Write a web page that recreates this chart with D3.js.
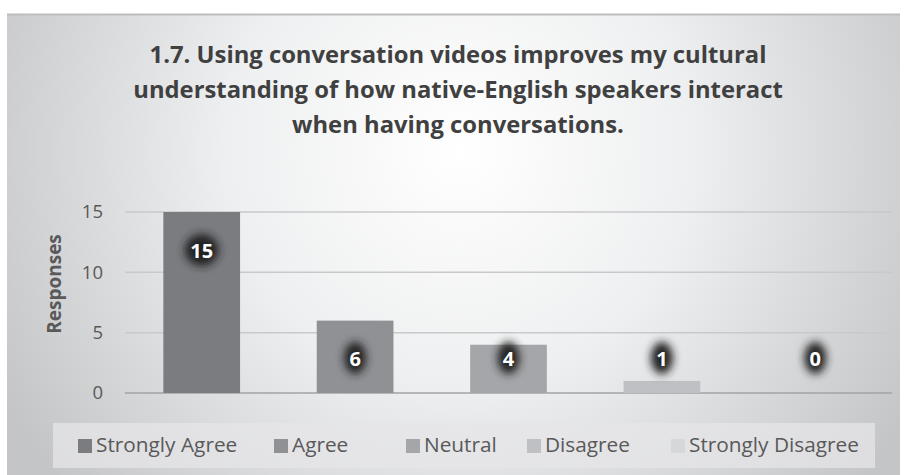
<!DOCTYPE html>
<html><head><meta charset="utf-8">
<script src="https://cdnjs.cloudflare.com/ajax/libs/d3/7.8.5/d3.min.js"></script>
<style>html,body{margin:0;padding:0;background:#fff;}svg{display:block;}</style>
</head><body>
<script>
const categories = ["Strongly Agree","Agree","Neutral","Disagree","Strongly Disagree"];
const values = [15,6,4,1,0];
const colors = ["#7b7c80","#909195","#a5a6a9","#bfc0c3","#d6d7d9"];
const yTicks = [0,5,10,15];
const titleLines = ["1.7. Using conversation videos improves my cultural","understanding of how native-English speakers interact","when having conversations."];
const yLabel = "Responses";

const W=909,H=475;
const svg=d3.select("body").append("svg").attr("width",W).attr("height",H);
const defs=svg.append("defs");
const rg=defs.append("radialGradient").attr("id","bg").attr("gradientUnits","userSpaceOnUse")
  .attr("cx",460).attr("cy",150).attr("r",520);
rg.append("stop").attr("offset","0%").attr("stop-color","#ffffff");
rg.append("stop").attr("offset","45%").attr("stop-color","#eeeff0");
rg.append("stop").attr("offset","100%").attr("stop-color","#c4c5c7");
const f=defs.append("filter").attr("id","glow").attr("x","-100%").attr("y","-100%").attr("width","300%").attr("height","300%");
f.append("feGaussianBlur").attr("stdDeviation",4.5);

svg.append("rect").attr("x",7).attr("y",14).attr("width",893).attr("height",461).attr("fill","url(#bg)");
svg.append("line").attr("x1",7).attr("x2",900).attr("y1",14.5).attr("y2",14.5).attr("stroke","#bdbdbf").attr("stroke-width",2);

const FONT="'Open Sans',sans-serif";
svg.append("g").selectAll("text").data(titleLines).join("text")
  .attr("x",458).attr("y",(d,i)=>63+i*35).attr("text-anchor","middle")
  .attr("font-family",FONT).attr("font-weight","bold").attr("font-size",23.8)
  .attr("fill","#404040").text(d=>d);

const x=d3.scaleBand().domain(categories).range([125,892]).paddingInner(0.5).paddingOuter(0.25);
const y=d3.scaleLinear().domain([0,15]).range([393,212]);

const grid=svg.append("g");
grid.selectAll("line").data(yTicks).join("line")
  .attr("x1",125).attr("x2",892).attr("y1",d=>y(d)).attr("y2",d=>y(d))
  .attr("stroke",d=>d===0?"#a3a3a5":"#c9c9cb").attr("stroke-width",1.5);

const yAxis=d3.axisLeft(y).tickValues(yTicks).tickSize(0).tickPadding(0);
const ya=svg.append("g").attr("transform","translate(103,0)").call(yAxis);
ya.select(".domain").remove();
ya.selectAll("text").attr("font-family",FONT).attr("font-size",18.5).attr("fill","#595959");

svg.append("text").attr("transform","translate(61,284) rotate(-90)").attr("text-anchor","middle")
  .attr("font-family",FONT).attr("font-weight","bold").attr("font-size",19).attr("fill","#595959").text(yLabel);

svg.append("g").selectAll("rect").data(values).join("rect")
  .attr("x",(d,i)=>x(categories[i])).attr("width",x.bandwidth())
  .attr("y",d=>y(d)).attr("height",d=>y(0)-y(d)).attr("fill",(d,i)=>colors[i]);

const labY=d=>Math.min(y(d)+38,y(0)-35);
const lg=svg.append("g");
lg.selectAll("ellipse").data(values).join("ellipse")
  .attr("cx",(d,i)=>x(categories[i])+x.bandwidth()/2).attr("cy",d=>labY(d))
  .attr("rx",(d)=>d>=10?17:11).attr("ry",16).attr("fill","#222224").attr("filter","url(#glow)");
lg.selectAll("text").data(values).join("text")
  .attr("x",(d,i)=>x(categories[i])+x.bandwidth()/2).attr("y",d=>labY(d)+7.5)
  .attr("text-anchor","middle").attr("font-family",FONT).attr("font-weight","bold")
  .attr("font-size",20).attr("fill","#ffffff").text(d=>d);

// legend
svg.append("rect").attr("x",53).attr("y",423).attr("width",822).attr("height",45).attr("fill","#e6e6e8").attr("opacity",0.75);
const legX=[78,274,406,527,671];
const leg=svg.append("g").selectAll("g").data(categories).join("g")
  .attr("transform",(d,i)=>`translate(${legX[i]},0)`);
leg.append("rect").attr("x",0).attr("y",439).attr("width",14).attr("height",14).attr("fill",(d,i)=>colors[i]);
leg.append("text").attr("x",18).attr("y",452).attr("font-family",FONT).attr("font-size",20.8)
  .attr("fill","#595959").text(d=>d);
</script>
</body></html>
